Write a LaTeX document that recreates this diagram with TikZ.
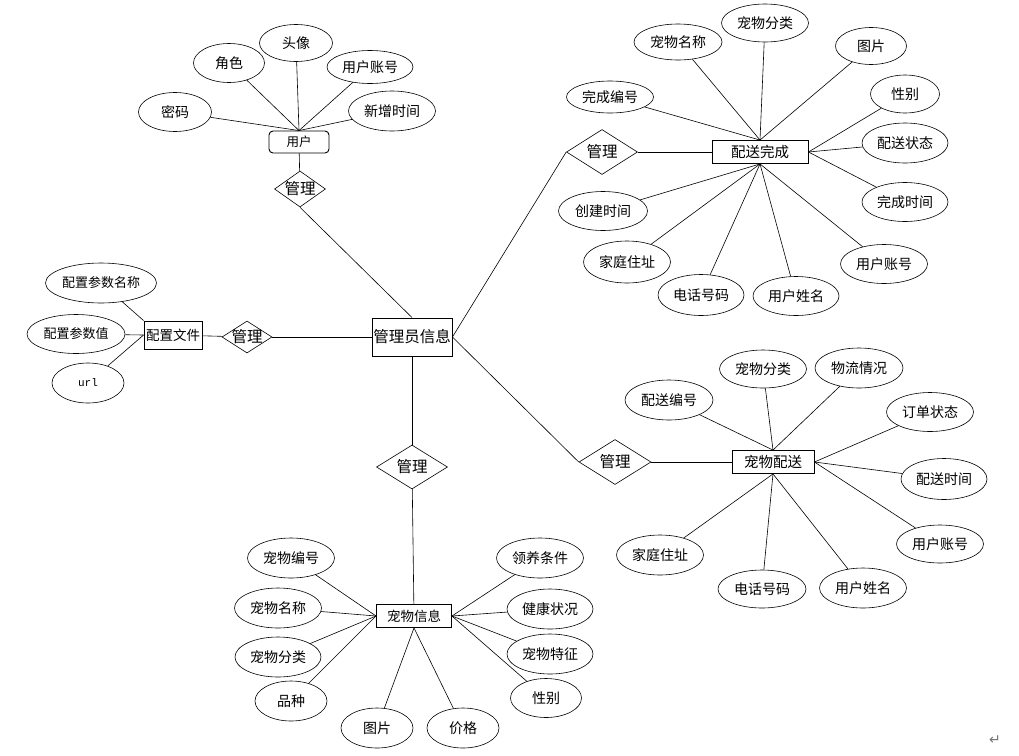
\documentclass[tikz,border=0pt]{standalone}
\usepackage{fontspec}
\setmainfont{Noto Sans CJK SC}
\setmonofont{Liberation Mono}
\newfontfamily\markfont{DejaVu Sans}
\usetikzlibrary{shapes.geometric, positioning}

\begin{document}
\begin{tikzpicture}[x=1pt,y=-1pt,line width=0.6pt,
    attr/.style={ellipse,draw,inner sep=0pt,minimum width=87pt,minimum height=39pt,font=\fontsize{14}{16}\selectfont},
    short/.style={attr,minimum width=72pt},
    entity/.style={rectangle,draw,line width=0.9pt,inner sep=0pt,font=\fontsize{13.5}{15}\selectfont},
    rel/.style={diamond,draw,aspect=1.6,inner sep=-4pt,font=\fontsize{15.5}{17}\selectfont}]
    \useasboundingbox (0,0) rectangle (1019,755);

    % entities and relations
    \node[entity,minimum width=80pt,minimum height=38pt,font=\fontsize{15.5}{17}\selectfont] (admin) at (412,337) {管理员信息};
    \node[entity,rounded corners=4pt,minimum width=60pt,minimum height=22pt,font=\fontsize{12.5}{14}\selectfont] (user) at (299,142) {用户};
    \node[entity,minimum width=58pt,minimum height=28pt] (cfg) at (173,335) {配置文件};
    \node[entity,minimum width=96pt,minimum height=23pt,font=\fontsize{14.5}{16}\selectfont] (done) at (760,152) {配送完成};
    \node[entity,minimum width=82pt,minimum height=23pt,font=\fontsize{14.5}{16}\selectfont] (deliv) at (773,462) {宠物配送};
    \node[entity,minimum width=75pt,minimum height=23pt] (pet) at (414,616) {宠物信息};

    \node[rel,minimum width=51pt,minimum height=36pt] (udia) at (300,189) {管理};
    \node[rel,minimum width=50pt,minimum height=32pt] (cdia) at (247,337) {管理};
    \node[rel,minimum width=71pt,minimum height=45pt] (ddia) at (602,152) {管理};
    \node[rel,minimum width=72pt,minimum height=45pt] (sdia) at (615,462) {管理};
    \node[rel,minimum width=71pt,minimum height=44pt] (pdia) at (412,467) {管理};

    % user attributes
    \node[short,minimum width=73pt] (u1) at (175,112) {密码};
    \node[short,minimum width=71pt] (u2) at (229,63) {角色};
    \node[short,minimum width=73pt,minimum height=37pt] (u3) at (296,43) {头像};
    \node[attr,minimum width=86pt,minimum height=33pt] (u4) at (370,67) {用户账号};
    \node[attr,minimum height=40pt] (u5) at (392,111) {新增时间};

    % config attributes
    \node[attr,minimum width=111pt,minimum height=40pt,font=\fontsize{13}{15}\selectfont] (c1) at (101,283) {配置参数名称};
    \node[attr,minimum width=98pt,font=\fontsize{13}{15}\selectfont] (c2) at (76,334) {配置参数值};
    \node[short,minimum height=40pt,font=\ttfamily\fontsize{11}{13}\selectfont] (c3) at (88,383) {url};

    % delivery done attributes
    \node[attr,minimum height=32pt] (d1) at (610,97) {完成编号};
    \node[attr,minimum width=88pt,minimum height=36pt] (d2) at (678,42) {宠物名称};
    \node[attr,minimum height=38pt] (d3) at (765,23) {宠物分类};
    \node[short,minimum width=71pt,minimum height=37pt] (d4) at (871,46) {图片};
    \node[short,minimum width=69pt,minimum height=38pt] (d5) at (905,94) {性别};
    \node[attr,minimum width=86pt,minimum height=40pt] (d6) at (905,143) {配送状态};
    \node[attr,minimum width=86pt] (d7) at (905,202) {完成时间};
    \node[attr,minimum width=89pt] (d8) at (603,211) {创建时间};
    \node[attr,minimum height=42pt] (d9) at (627,262) {家庭住址};
    \node[attr,minimum width=86pt,minimum height=41pt] (d10) at (701,295) {电话号码};
    \node[attr,minimum width=86pt] (d11) at (796,296) {用户姓名};
    \node[attr] (d12) at (884,264) {用户账号};

    % pet delivery attributes
    \node[attr,minimum width=88pt,minimum height=40pt] (s1) at (669,400) {配送编号};
    \node[attr,minimum height=38pt] (s2) at (763,369) {宠物分类};
    \node[attr,minimum width=88pt,minimum height=40pt] (s3) at (859,368) {物流情况};
    \node[attr] (s4) at (930,412) {订单状态};
    \node[attr,minimum width=86pt,minimum height=41pt] (s5) at (944,479) {配送时间};
    \node[attr,minimum height=38pt] (s6) at (940,544) {用户账号};
    \node[attr,minimum height=40pt] (s7) at (660,555) {家庭住址};
    \node[attr,minimum width=88pt,minimum height=38pt] (s8) at (762,589) {电话号码};
    \node[attr,minimum height=40pt] (s9) at (863,588) {用户姓名};

    % pet info attributes
    \node[attr,minimum height=40pt] (p1) at (291,558) {宠物编号};
    \node[attr,minimum height=40pt] (p2) at (278,608) {宠物名称};
    \node[attr,minimum width=86pt,minimum height=40pt] (p3) at (278,657) {宠物分类};
    \node[short,minimum height=40pt] (p4) at (291,701) {品种};
    \node[short,minimum height=40pt] (p5) at (377,728) {图片};
    \node[short,minimum height=40pt] (p6) at (463,728) {价格};
    \node[attr,minimum height=40pt] (p7) at (540,558) {领养条件};
    \node[attr,minimum width=86pt,minimum height=40pt] (p8) at (550,609) {健康状况};
    \node[attr,minimum width=86pt,minimum height=40pt] (p9) at (550,654) {宠物特征};
    \node[short,minimum width=71pt] (p10) at (546,698) {性别};

    \node[text=black!55,font=\markfont\fontsize{14}{16}\selectfont] (ret) at (995,740) {↵};

    % connectors
    \path (user) edge (udia)
          (udia.south) edge (admin.north)
          (cfg) edge (cdia)
          (cdia) edge (admin)
          (admin.east) edge (ddia.west)
          (ddia) edge (done)
          (admin.east) edge (sdia.west)
          (sdia) edge (deliv)
          (admin) edge (pdia)
          (pdia) edge (pet);

    \foreach \a in {u1,u2,u3,u4,u5}
        \path (\a) edge (user.north);
    \path (c1) edge (cfg.north west)
          (c2) edge (cfg.west)
          (c3) edge (cfg.west);
    \foreach \a in {d1,d2,d3,d4}
        \path (\a) edge (done.north);
    \foreach \a in {d5,d6,d7}
        \path (\a) edge (done.east);
    \foreach \a in {d8,d9,d10,d11,d12}
        \path (\a) edge (done.south);
    \foreach \a in {s1,s2,s3}
        \path (\a) edge (deliv.north);
    \foreach \a in {s4,s5,s6}
        \path (\a) edge (deliv.east);
    \foreach \a in {s7,s8,s9}
        \path (\a) edge (deliv.south);
    \foreach \a in {p1,p2,p3,p4}
        \path (\a) edge (pet.west);
    \foreach \a in {p5,p6}
        \path (\a) edge (pet.south);
    \foreach \a in {p7,p8,p9,p10}
        \path (\a) edge (pet.east);
\end{tikzpicture}
\end{document}
